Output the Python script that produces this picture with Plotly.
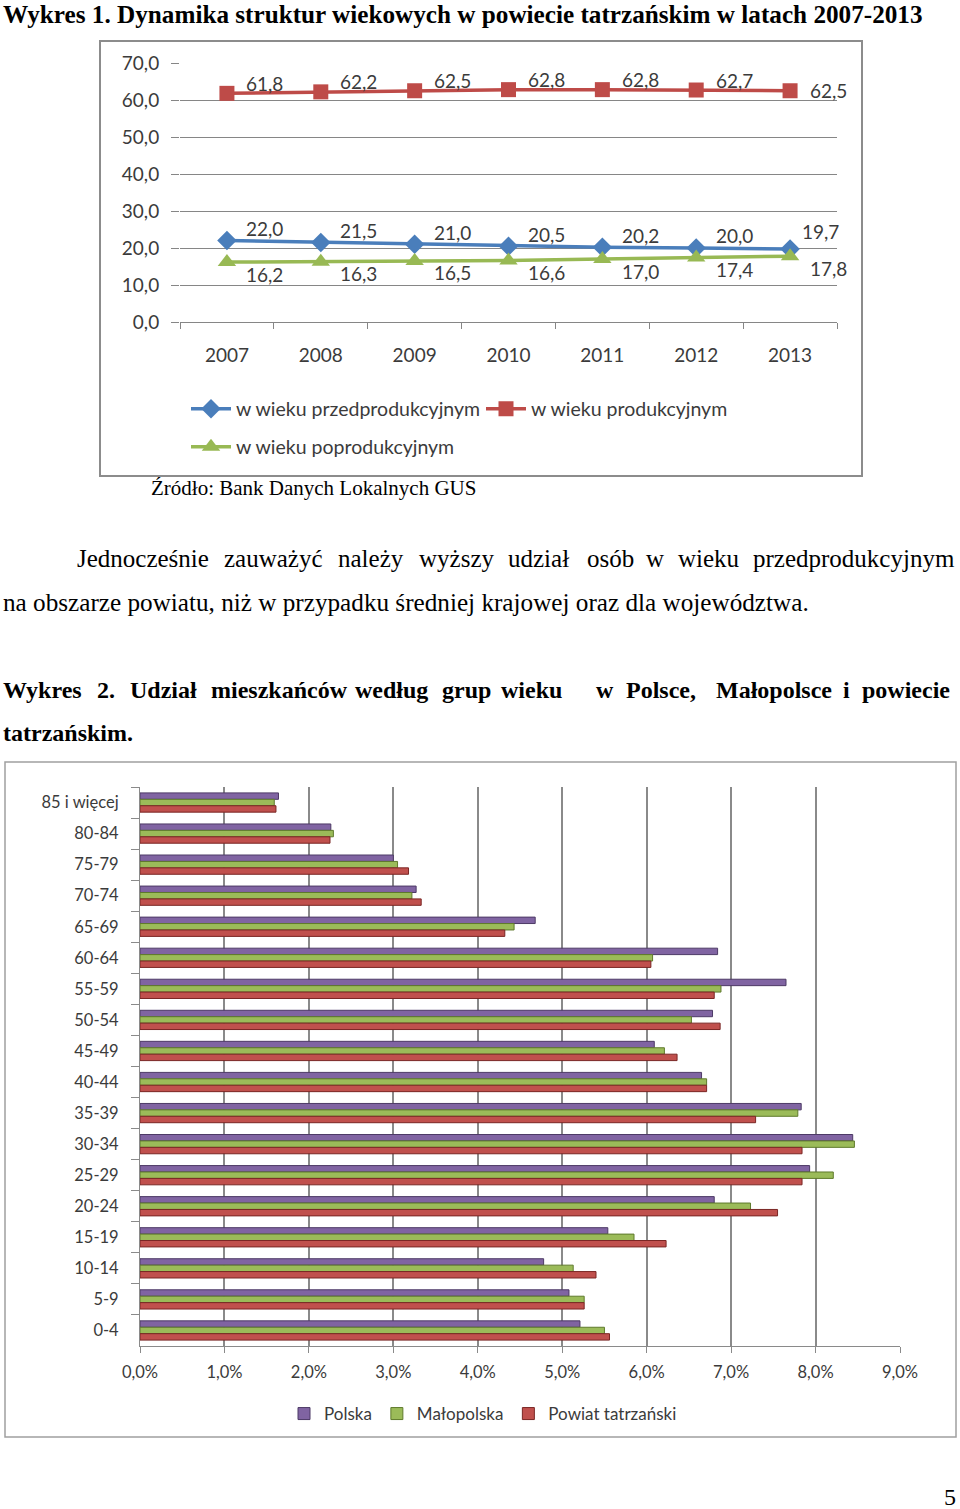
import plotly.graph_objects as go

W, H = 960, 1509

# ---------------- Data: chart 1 ----------------
years = ["2007", "2008", "2009", "2010", "2011", "2012", "2013"]
przedprod = [22.0, 21.5, 21.0, 20.5, 20.2, 20.0, 19.7]
prod = [61.8, 62.2, 62.5, 62.8, 62.8, 62.7, 62.5]
poprod = [16.2, 16.3, 16.5, 16.6, 17.0, 17.4, 17.8]
names1 = ["w wieku przedprodukcyjnym", "w wieku produkcyjnym", "w wieku poprodukcyjnym"]

# ---------------- Data: chart 2 ----------------
age_groups = ["85 i więcej", "80-84", "75-79", "70-74", "65-69", "60-64", "55-59",
              "50-54", "45-49", "40-44", "35-39", "30-34", "25-29", "20-24",
              "15-19", "10-14", "5-9", "0-4"]
polska = [1.64, 2.26, 3.00, 3.27, 4.68, 6.84, 7.65, 6.78, 6.09, 6.65,
          7.83, 8.44, 7.93, 6.80, 5.54, 4.78, 5.08, 5.21]
malopolska = [1.59, 2.29, 3.05, 3.22, 4.43, 6.07, 6.88, 6.53, 6.21, 6.71,
              7.79, 8.46, 8.21, 7.23, 5.85, 5.13, 5.26, 5.50]
powiat = [1.61, 2.25, 3.18, 3.33, 4.32, 6.05, 6.80, 6.87, 6.36, 6.71,
          7.29, 7.84, 7.84, 7.55, 6.23, 5.40, 5.26, 5.56]
names2 = ["Polska", "Małopolska", "Powiat tatrzański"]


def px_x(p):
    return p / W


def px_y(p):
    return 1 - p / H


SANS = "Lato, 'Open Sans', sans-serif"
SERIF = "'Liberation Serif', 'Times New Roman', serif"
TXT = "#3b3b3b"

fig = go.Figure()

# chart 1 lines
c_blue, c_red, c_green = "#4A7EBB", "#BE4B48", "#98B954"
fig.add_trace(go.Scatter(x=years, y=przedprod, name=names1[0], mode="lines+markers",
                         line=dict(color=c_blue, width=3.5),
                         marker=dict(symbol="diamond", size=15, color=c_blue),
                         xaxis="x", yaxis="y", legend="legend"))
fig.add_trace(go.Scatter(x=years, y=prod, name=names1[1], mode="lines+markers",
                         line=dict(color=c_red, width=3.5),
                         marker=dict(symbol="square", size=15, color=c_red),
                         xaxis="x", yaxis="y", legend="legend"))
fig.add_trace(go.Scatter(x=years, y=poprod, name=names1[2], mode="lines+markers",
                         line=dict(color=c_green, width=3.5),
                         marker=dict(symbol="triangle-up", size=16, color=c_green),
                         xaxis="x", yaxis="y", legend="legend2"))

# chart 2 bars
bar_cols = ["#8064A2", "#9BBB59", "#C0504D"]
bar_edge = ["#4d3a66", "#5f7a2c", "#7a2624"]
for nm, vals, col, edge in zip(names2, [polska, malopolska, powiat], bar_cols, bar_edge):
    fig.add_trace(go.Bar(y=age_groups, x=vals, name=nm, orientation="h",
                         marker=dict(color=col, line=dict(color=edge, width=1)),
                         xaxis="x2", yaxis="y2", legend="legend3"))

annotations = []


def fmt(v):
    return f"{v:.1f}".replace(".", ",")


LBL = dict(family=SANS, size=19, color=TXT)
n = len(years)
# data labels chart 1 (x given as category index)
for i, v in enumerate(prod):
    last = i == n - 1
    annotations.append(dict(x=i, y=v, xref="x", yref="y", text=fmt(v), showarrow=False,
                            xshift=38, yshift=0 if last else 10, font=LBL))
for i, v in enumerate(przedprod):
    last = i == n - 1
    annotations.append(dict(x=i, y=v, xref="x", yref="y", text=fmt(v), showarrow=False,
                            xshift=30 if last else 38, yshift=18 if last else 12, font=LBL))
for i, v in enumerate(poprod):
    annotations.append(dict(x=i, y=v, xref="x", yref="y", text=fmt(v), showarrow=False,
                            xshift=38, yshift=-12, font=LBL))


def text(s, x, y, size=25, bold=False, anchor="left", yanchor="middle"):
    annotations.append(dict(x=px_x(x), y=px_y(y), xref="paper", yref="paper",
                            text=f"<b>{s}</b>" if bold else s, showarrow=False,
                            xanchor=anchor, yanchor=yanchor, borderpad=0,
                            font=dict(family=SERIF, size=size, color="black")))


text("Wykres 1. Dynamika struktur wiekowych w powiecie tatrzańskim w latach 2007-2013",
     2, 0, 25.2, True, yanchor="top")
text("Źródło: Bank Danych Lokalnych GUS", 150, 488, 21)

para1 = ["Jednocześnie", "zauważyć", "należy", "wyższy", "udział", "osób", "w", "wieku", "przedprodukcyjnym"]
para1_x = [76, 223, 337, 418, 507, 586, 645, 677, 752]
for w_, x_ in zip(para1, para1_x):
    text(w_, x_, 559, 25)
text("na obszarze powiatu, niż w przypadku średniej krajowej oraz dla województwa.", 2, 602, 25.2)

head2 = ["Wykres", "2.", "Udział", "mieszkańców", "według", "grup", "wieku", "w", "Polsce,", "Małopolsce", "i", "powiecie"]
head2_x = [2, 96, 129, 210, 354, 441, 500, 595, 625, 715, 842, 861]
for w_, x_ in zip(head2, head2_x):
    text(w_, x_, 690, 24, True)
text("tatrzańskim.", 2, 733, 24, True)
text("5", 957, 1497, 24, anchor="right")

shapes = [
    dict(type="rect", xref="paper", yref="paper", x0=px_x(100), x1=px_x(862),
         y0=px_y(476), y1=px_y(41), line=dict(color="#8c8c8c", width=2)),
    dict(type="rect", xref="paper", yref="paper", x0=px_x(5), x1=px_x(956),
         y0=px_y(1437), y1=px_y(762), line=dict(color="#a0a0a0", width=1.5)),
]

fig.update_layout(
    width=W, height=H, margin=dict(l=0, r=0, t=0, b=0, autoexpand=False),
    paper_bgcolor="white", plot_bgcolor="white",
    separators=", ",
    showlegend=True,
    bargap=0.38, bargroupgap=0,
    annotations=annotations, shapes=shapes,
    xaxis=dict(domain=[px_x(180), px_x(837)], anchor="y", type="category",
               range=[-0.5, 6.5], showgrid=False, showline=True, linecolor="#868686",
               linewidth=1, ticks="outside", tickson="boundaries", ticklen=6,
               tickcolor="#868686", ticklabelstandoff=16,
               tickfont=dict(family=SANS, size=19, color=TXT)),
    yaxis=dict(domain=[px_y(322), px_y(63)], anchor="x", range=[0, 70], dtick=10,
               tickformat=".1f", showgrid=True, gridcolor="#868686", gridwidth=1,
               zeroline=False, showline=False, ticks="outside", ticklen=8,
               tickcolor="#868686", ticklabelstandoff=8,
               tickfont=dict(family=SANS, size=19, color=TXT)),
    xaxis2=dict(domain=[px_x(140), px_x(900)], anchor="y2", range=[0, 9], dtick=1,
                tickformat=".1f", ticksuffix="%", showgrid=True, gridcolor="#8a8a8a",
                gridwidth=1.5, zeroline=False, showline=True, linecolor="#8a8a8a",
                ticks="outside", ticklen=6, tickcolor="#8a8a8a", ticklabelstandoff=5,
                tickfont=dict(family=SANS, size=16.5, color=TXT)),
    yaxis2=dict(domain=[px_y(1346), px_y(787)], anchor="x2", type="category",
                autorange="reversed", showgrid=False, showline=True, linecolor="#8a8a8a",
                ticks="outside", tickson="boundaries", ticklen=8, tickcolor="#8a8a8a",
                ticklabelstandoff=17,
                tickfont=dict(family=SANS, size=16.5, color=TXT)),
    legend=dict(orientation="h", x=px_x(186), y=px_y(409), xanchor="left", yanchor="middle",
                font=dict(family=SANS, size=19.5, color=TXT), entrywidth=240, itemwidth=40,
                bgcolor="rgba(0,0,0,0)"),
    legend2=dict(orientation="h", x=px_x(186), y=px_y(447), xanchor="left", yanchor="middle",
                 font=dict(family=SANS, size=19.5, color=TXT), itemwidth=40,
                 bgcolor="rgba(0,0,0,0)"),
    legend3=dict(orientation="h", x=px_x(284), y=px_y(1414), xanchor="left", yanchor="middle",
                 font=dict(family=SANS, size=17, color=TXT), bgcolor="rgba(0,0,0,0)",
                 itemwidth=30),
)

fig.write_html("out.html")
